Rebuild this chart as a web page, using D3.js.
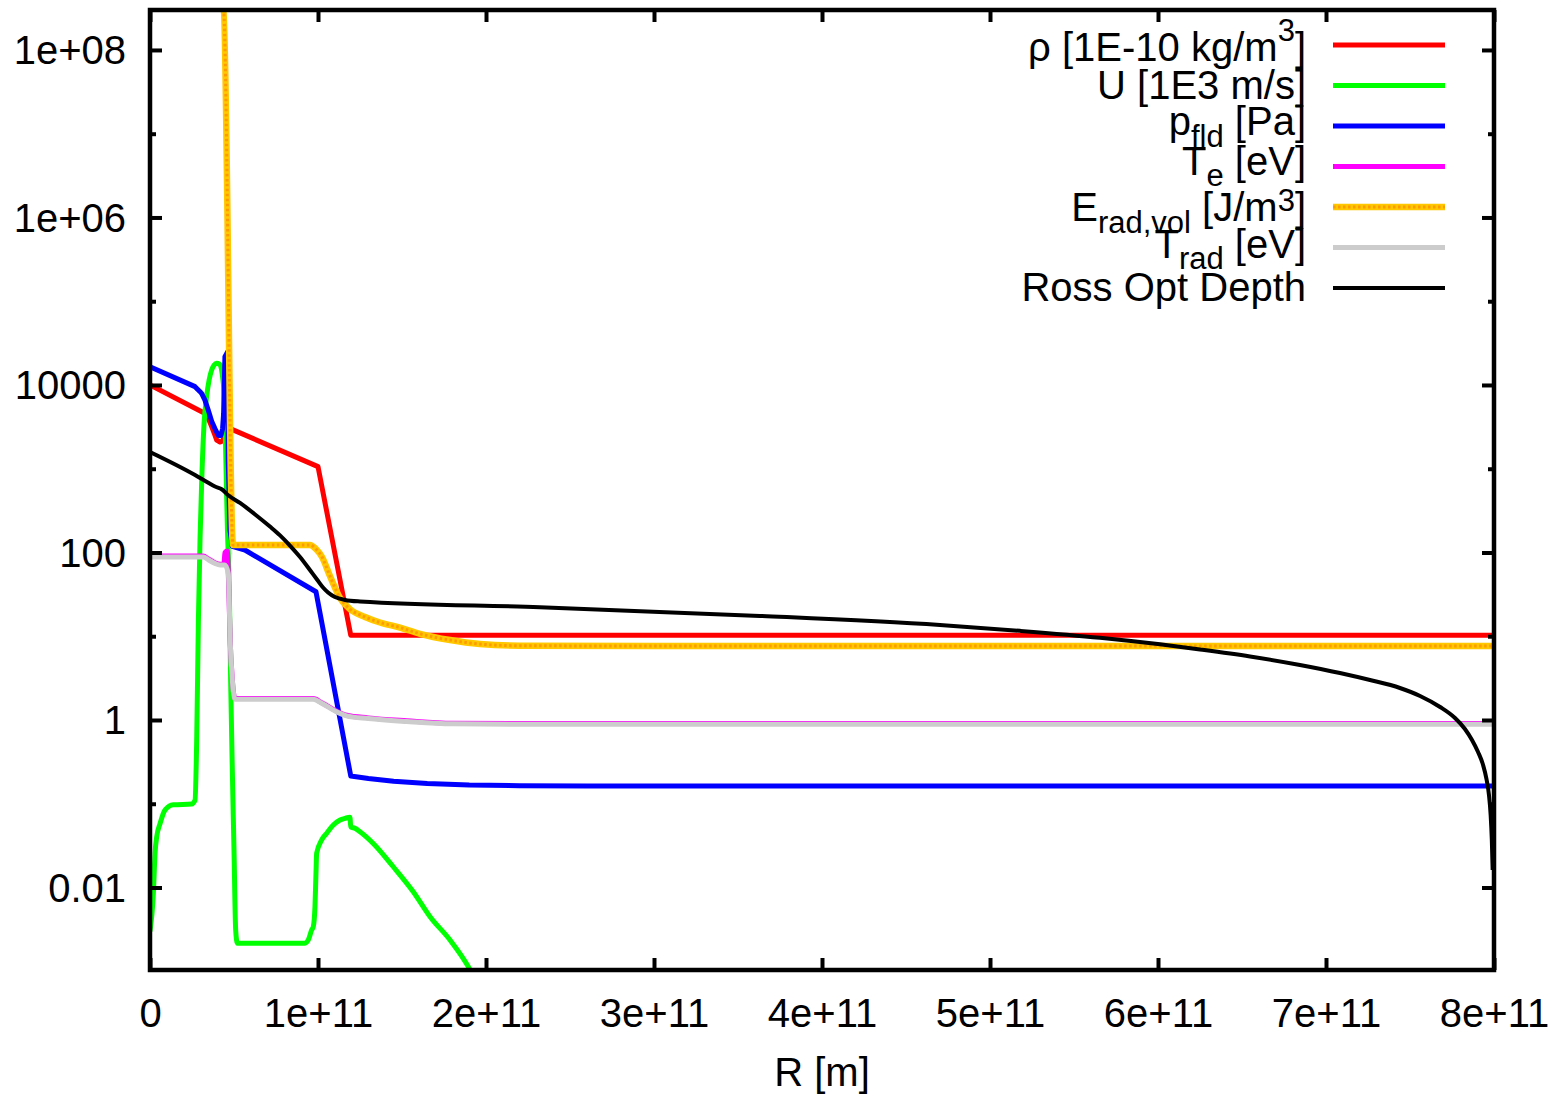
<!DOCTYPE html>
<html>
<head>
<meta charset="utf-8">
<script src="https://cdn.jsdelivr.net/npm/d3@7"></script>
<style>
  html, body { margin: 0; padding: 0; background: #fff; }
  svg { display: block; font-family: "Liberation Sans", Arial, Helvetica, sans-serif; }
  text { white-space: pre; }
</style>
</head>
<body>
<svg id="chart" width="1563" height="1095"></svg>
<script>
// Radial profiles of the shocked flow, R in metres.

// density rho [1E-10 kg/m^3]
const rhoR = [0, 0.308e11, 0.327e11, 0.347e11, 0.367e11, 0.387e11, 0.397e11, 0.417e11, 0.432e11, 0.446e11, 0.460e11, 0.470e11, 1.0e11, 1.195e11, 8.0e11];
const rhoV = [10000, 4800, 4590, 4000, 3180, 2500, 2200, 2080, 2150, 2530, 2950, 3050, 1060, 10.3, 10.3];

// velocity U [1E3 m/s]
const uR = [0, 0.02e11, 0.03e11, 0.04e11, 0.06e11, 0.089e11, 0.139e11, 0.248e11, 0.268e11, 0.278e11, 0.288e11, 0.298e11,
  0.308e11, 0.322e11, 0.337e11, 0.352e11, 0.367e11, 0.382e11, 0.397e11, 0.412e11, 0.422e11, 0.432e11, 0.442e11,
  0.452e11, 0.461e11, 0.472e11, 0.48e11, 0.49e11, 0.50e11, 0.51e11, 0.52e11, 0.92e11, 0.942e11, 0.962e11, 0.972e11,
  0.982e11, 0.988e11, 0.992e11, 1.022e11, 1.052e11, 1.091e11, 1.131e11, 1.161e11, 1.19e11, 1.195e11, 1.22e11, 1.25e11,
  1.329e11, 1.448e11, 1.567e11, 1.667e11, 1.786e11, 1.895e11, 1.964e11];
const uV = [0.003, 0.0085, 0.0256, 0.0404, 0.058, 0.084, 0.097, 0.099, 0.11, 0.577, 15, 150,
  734, 3500, 7250, 11500, 15100, 17300, 18150, 17800, 16550, 12500, 7250,
  1160, 186, 35.7, 3.0, 0.25, 0.028, 0.0031, 0.00216, 0.00216, 0.00236, 0.0031, 0.0034,
  0.0059, 0.0148, 0.0256, 0.037, 0.0445, 0.0557, 0.064, 0.067, 0.069, 0.053, 0.051, 0.0464,
  0.0336, 0.0177, 0.0089, 0.00448, 0.00236, 0.00113, 0.0006];

// fluid pressure p_fld [Pa]
const pR = [0, 0.268e11, 0.298e11, 0.308e11, 0.327e11, 0.347e11, 0.367e11, 0.387e11, 0.407e11, 0.422e11, 0.432e11,
  0.438e11, 0.446e11, 0.4625e11, 0.466e11, 0.476e11, 0.49e11, 0.565e11, 0.988e11, 1.195e11, 1.3e11, 1.45e11,
  1.65e11, 1.9e11, 2.2e11, 2.6e11, 8.0e11];
const pV = [16500, 9550, 8320, 7900, 6600, 5000, 3700, 3000, 2500, 2500, 3000,
  4500, 21800, 25000, 1200, 186, 118, 107, 34, 0.214, 0.2, 0.186,
  0.175, 0.167, 0.164, 0.163, 0.163];

// electron temperature T_e [eV]
const teR = [0, 0.317e11, 0.347e11, 0.387e11, 0.417e11, 0.44e11, 0.446e11, 0.46e11, 0.466e11, 0.478e11, 0.49e11,
  0.505e11, 0.972e11, 1.022e11, 1.131e11, 1.17e11, 1.3e11, 1.528e11, 1.8e11, 2.2e11, 8.0e11];
const teV = [90.5, 90.5, 83.7, 75.5, 72.5, 72.5, 100, 104, 57.5, 8.1, 3.05,
  1.8, 1.8, 1.61, 1.22, 1.14, 1.06, 0.98, 0.915, 0.905, 0.905];

// radiation energy density E_rad,vol [J/m^3]
const eradR = [0, 0.4375e11, 0.494e11, 0.952e11, 0.988e11, 1.024e11, 1.071e11, 1.131e11, 1.19e11, 1.28e11,
  1.369e11, 1.488e11, 1.607e11, 1.786e11, 1.964e11, 2.2e11, 3.0e11, 8.0e11];
const eradV = [1.5e9, 3.0e8, 123, 123, 110, 88.3, 52.4, 28.6, 21.1, 17,
  14.6, 12.7, 10.7, 9.0, 8.07, 7.7, 7.65, 7.65];

// radiation temperature T_rad [eV]
const tradR = [0, 0.317e11, 0.347e11, 0.387e11, 0.417e11, 0.446e11, 0.466e11, 0.478e11, 0.49e11,
  0.505e11, 0.972e11, 1.022e11, 1.131e11, 1.17e11, 1.3e11, 1.528e11, 1.8e11, 2.2e11, 8.0e11];
const tradV = [88.6, 88.6, 82, 74, 71, 71, 56, 8, 3.0,
  1.77, 1.77, 1.58, 1.2, 1.12, 1.04, 0.96, 0.9, 0.89, 0.89];

// Rosseland optical depth
const rossR = [0, 0.268e11, 0.339e11, 0.387e11, 0.429e11, 0.464e11, 0.536e11, 0.637e11, 0.714e11, 0.774e11,
  0.833e11, 0.893e11, 0.952e11, 0.994e11, 1.03e11, 1.06e11, 1.101e11, 1.161e11, 1.25e11, 2.321e11, 3.631e11,
  4.702e11, 5.179e11, 5.655e11, 6.012e11, 6.25e11, 6.548e11, 6.845e11, 7.083e11, 7.262e11, 7.44e11, 7.56e11,
  7.679e11, 7.768e11, 7.827e11, 7.869e11, 7.905e11, 7.935e11, 7.955e11, 7.97e11, 7.98e11, 7.987e11, 7.992e11];
const rossV = [1585, 842, 695, 614, 565, 486, 390, 273, 204, 160,
  121, 88.3, 61.8, 47.6, 38.2, 33.3, 29.4, 27.1, 26.0, 22.2, 17.5,
  13.6, 11.6, 9.6, 8.0, 6.95, 5.73, 4.54, 3.64, 3.0, 2.41, 1.935,
  1.43, 1.056, 0.781, 0.577, 0.415, 0.29, 0.198, 0.127, 0.0734, 0.0369, 0.0162];

// axis ranges and ticks
const xMin = 0, xMax = 8e11;
const yMin = 1.035e-3, yMax = 3.0e8;
const xTicks = [0, 1e11, 2e11, 3e11, 4e11, 5e11, 6e11, 7e11, 8e11];
const xTickLabels = ["0", "1e+11", "2e+11", "3e+11", "4e+11", "5e+11", "6e+11", "7e+11", "8e+11"];
const yTicks = [1e8, 1e6, 1e4, 1e2, 1, 1e-2];
const yTickLabels = ["1e+08", "1e+06", "10000", "100", "1", "0.01"];
const yMinorTicks = [1e7, 1e5, 1e3, 10, 0.1];
const xTitle = "R [m]";

// legend labels: [text, role] pieces, role "" = normal, "sub" = subscript, "sup" = superscript
const legendLabels = [
  [["ρ [1E-10 kg/m", ""], ["3", "sup"], ["]", ""]],
  [["U [1E3 m/s]", ""]],
  [["p", ""], ["fld", "sub"], [" [Pa]", ""]],
  [["T", ""], ["e", "sub"], [" [eV]", ""]],
  [["E", ""], ["rad,vol", "sub"], [" [J/m", ""], ["3", "sup"], ["]", ""]],
  [["T", ""], ["rad", "sub"], [" [eV]", ""]],
  [["Ross Opt Depth", ""]]
];

// ---------------- drawing ----------------
const svg = d3.select("#chart");
const L = 150, R = 1494, T = 10, B = 970;

const x = d3.scaleLinear().domain([xMin, xMax]).range([L, R]);
const y = d3.scaleLog().domain([yMin, yMax]).range([B, T]);

svg.append("rect").attr("width", 1563).attr("height", 1095).attr("fill", "#fff");

svg.append("defs").append("clipPath").attr("id", "plotclip")
  .append("rect").attr("x", L).attr("y", T).attr("width", R - L).attr("height", B - T);

const series = [
  { R: rhoR,  V: rhoV,  color: "#ff0000", width: 5,   curve: d3.curveLinear },
  { R: uR,    V: uV,    color: "#00ff00", width: 5,   curve: d3.curveMonotoneX },
  { R: pR,    V: pV,    color: "#0000ff", width: 5,   curve: d3.curveLinear },
  { R: teR,   V: teV,   color: "#ff00ff", width: 5,   curve: d3.curveMonotoneX },
  { R: eradR, V: eradV, color: "#ffc800", width: 6.5, curve: d3.curveMonotoneX, dots: "#ff9a00" },
  { R: tradR, V: tradV, color: "#cccccc", width: 5,   curve: d3.curveMonotoneX },
  { R: rossR, V: rossV, color: "#000000", width: 4,   curve: d3.curveMonotoneX }
];

const plotG = svg.append("g").attr("clip-path", "url(#plotclip)");
series.forEach(s => {
  const line = d3.line().x(d => x(d[0])).y(d => y(d[1])).curve(s.curve);
  const pts = d3.zip(s.R, s.V);
  plotG.append("path").attr("d", line(pts))
    .attr("fill", "none").attr("stroke", s.color).attr("stroke-width", s.width)
    .attr("stroke-linejoin", "round");
  if (s.dots) {
    plotG.append("path").attr("d", line(pts))
      .attr("fill", "none").attr("stroke", s.dots).attr("stroke-width", 3)
      .attr("stroke-dasharray", "2.5,2.5").attr("stroke-linejoin", "round");
  }
});

// axes: ticks point inward on all four sides
function styleAxis(g) {
  g.select(".domain").remove();
  g.selectAll(".tick line").attr("stroke", "#000").attr("stroke-width", 4);
  g.selectAll(".tick text").attr("fill", "#000").attr("font-size", 40)
    .attr("font-family", "'Liberation Sans', Arial, Helvetica, sans-serif");
}

svg.append("g").attr("transform", `translate(0,${B})`)
  .call(d3.axisBottom(x).tickValues(xTicks).tickFormat((d, i) => xTickLabels[i])
    .tickSizeInner(-12).tickSizeOuter(0).tickPadding(0))
  .call(styleAxis)
  .call(g => g.selectAll(".tick text").attr("dy", null).attr("y", 57));

svg.append("g").attr("transform", `translate(0,${T})`)
  .call(d3.axisTop(x).tickValues(xTicks).tickFormat("").tickSizeInner(-12).tickSizeOuter(0))
  .call(styleAxis);

svg.append("g").attr("transform", `translate(${L},0)`)
  .call(d3.axisLeft(y).tickValues(yTicks).tickFormat((d, i) => yTickLabels[i])
    .tickSizeInner(-12).tickSizeOuter(0).tickPadding(24))
  .call(styleAxis)
  .call(g => g.selectAll(".tick text").attr("dy", "0.34em"));

svg.append("g").attr("transform", `translate(${L},0)`)
  .call(d3.axisLeft(y).tickValues(yMinorTicks).tickFormat("").tickSizeInner(-6).tickSizeOuter(0))
  .call(styleAxis);

svg.append("g").attr("transform", `translate(${R},0)`)
  .call(d3.axisRight(y).tickValues(yTicks).tickFormat("").tickSizeInner(-12).tickSizeOuter(0))
  .call(styleAxis);

svg.append("g").attr("transform", `translate(${R},0)`)
  .call(d3.axisRight(y).tickValues(yMinorTicks).tickFormat("").tickSizeInner(-6).tickSizeOuter(0))
  .call(styleAxis);

// frame
svg.append("rect").attr("x", L).attr("y", T).attr("width", R - L).attr("height", B - T)
  .attr("fill", "none").attr("stroke", "#000").attr("stroke-width", 4.5);

// axis title
svg.append("text").attr("x", (L + R) / 2).attr("y", 1086)
  .attr("text-anchor", "middle").attr("font-size", 40).attr("fill", "#000").text(xTitle);

// legend
const legX0 = 1333, legX1 = 1445, legTextX = 1306, legY0 = 45, legStep = 40.5;
const baseOffset = [16, 13.3, 9, 8.3, 14, 10, 13.4];
const supLift = [-20, 0, 0, 0, -10, 0, 0];
const legend = svg.append("g");
series.forEach((s, i) => {
  const ly = legY0 + i * legStep;
  legend.append("line").attr("x1", legX0).attr("x2", legX1).attr("y1", ly).attr("y2", ly)
    .attr("stroke", s.color).attr("stroke-width", s.width);
  if (s.dots) {
    legend.append("line").attr("x1", legX0).attr("x2", legX1).attr("y1", ly).attr("y2", ly)
      .attr("stroke", s.dots).attr("stroke-width", 3).attr("stroke-dasharray", "2.5,2.5");
  }
  const t = legend.append("text").attr("x", legTextX).attr("y", ly + baseOffset[i])
    .attr("text-anchor", "end").attr("font-size", 40).attr("fill", "#000");
  let cur = 0;
  legendLabels[i].forEach(([txt, role]) => {
    const target = role === "sub" ? 11.5 : role === "sup" ? supLift[i] : 0;
    t.append("tspan").attr("dy", target - cur)
      .attr("font-size", role ? 31 : 40).text(txt);
    cur = target;
  });
});
</script>
</body>
</html>
